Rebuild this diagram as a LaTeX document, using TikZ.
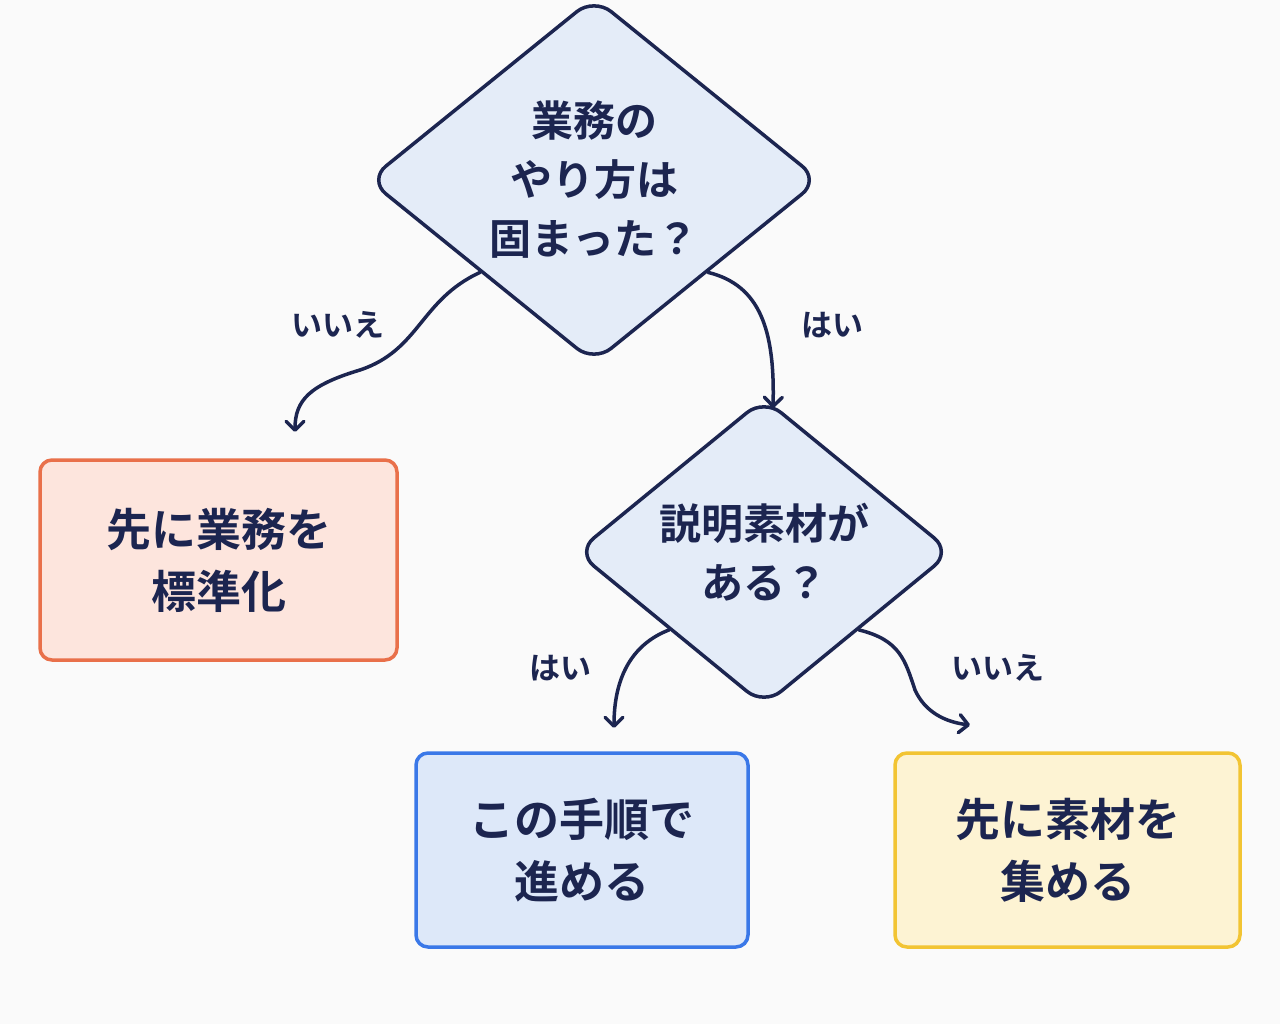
\documentclass[tikz,border=0pt]{standalone}
\usepackage{fontspec}
\setmainfont{Noto Sans CJK JP}[BoldFont={* Bold}]
\usetikzlibrary{shapes.geometric,arrows.meta}
\definecolor{navy}{HTML}{1C2550}
\definecolor{dfill}{HTML}{E4ECF8}
\definecolor{obord}{HTML}{E9704A}\definecolor{ofill}{HTML}{FDE5DD}
\definecolor{bbord}{HTML}{3A78E8}\definecolor{bfill}{HTML}{DDE8F9}
\definecolor{ybord}{HTML}{F2C433}\definecolor{yfill}{HTML}{FDF3D3}
\begin{document}
\begin{tikzpicture}[x=1pt,y=-1pt,
 dia/.style={diamond,draw=navy,fill=dfill,line width=3.5pt,rounded corners=22pt,inner sep=0pt,text=navy,font=\bfseries\fontsize{42}{59}\selectfont,align=center},
 box/.style={draw,line width=3.5pt,rounded corners=12pt,text=navy,font=\bfseries\fontsize{45}{62}\selectfont,align=center},
 arr/.style={navy,line width=3.5pt,-{Straight Barb[length=9pt,width=18pt,round]},line cap=round},
 lab/.style={text=navy,font=\bfseries\fontsize{31}{32}\selectfont}]
\fill[white!96!gray] (0,0) rectangle (1280,1024);
\useasboundingbox (0,0) rectangle (1280,1024);
\node[dia,minimum width=452pt,minimum height=306pt] (d1) at (594,180) {業務の\\やり方は\\固まった？};
\node[dia,minimum width=376pt,minimum height=236pt] (d2) at (764,552) {説明素材が\\ある？};
\node[box,draw=obord,fill=ofill,minimum width=357pt,minimum height=200pt] (b1) at (218.5,560) {先に業務を\\標準化};
\node[box,draw=bbord,fill=bfill,minimum width=332pt,minimum height=194pt] (b2) at (582,850) {この手順で\\進める};
\node[box,draw=ybord,fill=yfill,minimum width=345pt,minimum height=194pt] (b3) at (1067.5,850) {先に素材を\\集める};
\coordinate (e1) at (295,432);
\coordinate (e2) at (773,408);
\coordinate (e3) at (614,728);
\coordinate (e4) at (970,725);
\draw[arr] (d1.south west) .. controls (420,300) and (420,350) .. (360,370) .. controls (310,385) and (295,400) .. (e1);
\draw[arr] (d1.south east) .. controls (760,285) and (775,330) .. (e2);
\draw[arr] (d2.south west) .. controls (630,645) and (614,680) .. (e3);
\draw[arr] (d2.south east) .. controls (900,640) and (905,660) .. (915,690) .. controls (925,712) and (945,722) .. (e4);
\node[lab] (l1) at (338,325) {いいえ};
\node[lab] (l2) at (832,325) {はい};
\node[lab] (l3) at (560,668) {はい};
\node[lab] (l4) at (998,668) {いいえ};
\end{tikzpicture}
\end{document}
